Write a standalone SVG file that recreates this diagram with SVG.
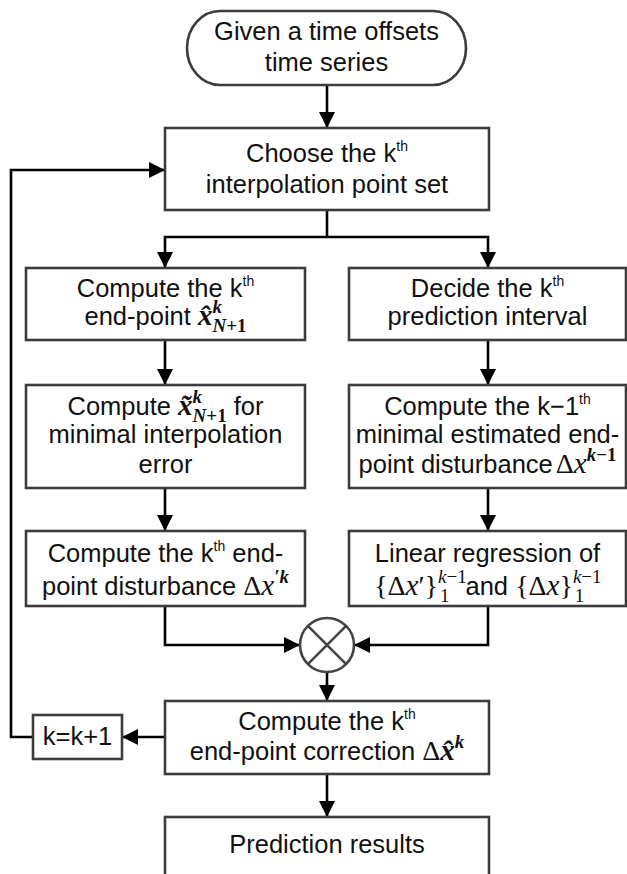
<svg xmlns="http://www.w3.org/2000/svg" width="627" height="874" viewBox="0 0 627 874">
<style>
.box{fill:#fff;stroke:#3c3c3c;stroke-width:2.6}
.wire{fill:none;stroke:#000;stroke-width:2.6}
.arr{marker-end:url(#ah)}
text{font-family:"Liberation Sans",Arial,sans-serif;font-size:25.5px;fill:#111}
.sup{font-size:14px}
.m{font-family:"Liberation Serif","Times New Roman",serif;font-style:italic;font-weight:bold;font-size:29px}
.mn{font-family:"Liberation Serif","Times New Roman",serif;font-style:italic;font-size:29px}
.mu{font-family:"Liberation Serif","Times New Roman",serif;font-size:28px}
.ms{font-family:"Liberation Serif","Times New Roman",serif;font-style:italic;font-weight:bold;font-size:19px}
.msu{font-family:"Liberation Serif","Times New Roman",serif;font-weight:bold;font-size:19px}
.msi{font-family:"Liberation Serif","Times New Roman",serif;font-style:italic;font-size:19px}
.msn{font-family:"Liberation Serif","Times New Roman",serif;font-size:19px}
</style>
<defs>
<marker id="ah" markerUnits="userSpaceOnUse" markerWidth="18" markerHeight="16" refX="16" refY="8" orient="auto">
<path d="M0,0 L16,8 L0,16 Z" fill="#000"/>
</marker>
</defs>

<g id="connectors">
<path class="wire arr" d="M327,85 V128"/>
<path class="wire" d="M327,210 V237"/>
<path class="wire arr" d="M327,237 H165 V268"/>
<path class="wire arr" d="M327,237 H488 V268"/>
<path class="wire arr" d="M165,340 V385"/>
<path class="wire arr" d="M488,340 V385"/>
<path class="wire arr" d="M165,488 V531"/>
<path class="wire arr" d="M488,488 V531"/>
<path class="wire arr" d="M165,606 V645 H300"/>
<path class="wire arr" d="M488,606 V645 H354"/>
<path class="wire arr" d="M327,672 V701"/>
<path class="wire arr" d="M165,737 H122"/>
<path class="wire arr" d="M33,737 H11 V170 H165"/>
<path class="wire arr" d="M327,774 V817"/>
</g>

<g id="start">
<rect class="box" x="187" y="11" width="279" height="74" rx="33" ry="37"/>
<text x="326.5" y="40" text-anchor="middle">Given a time offsets</text>
<text x="326.5" y="71" text-anchor="middle">time series</text>
</g>

<g id="choose">
<rect class="box" x="165" y="128" width="324" height="82"/>
<text x="327" y="162" text-anchor="middle">Choose the k<tspan class="sup" dy="-11">th</tspan></text>
<text x="327" y="193" text-anchor="middle">interpolation point set</text>
</g>

<g id="endpoint">
<rect class="box" x="26" y="268" width="279" height="72"/>
<text x="165.5" y="297" text-anchor="middle">Compute the k<tspan class="sup" dy="-11">th</tspan></text>
<text x="165.5" y="325" text-anchor="middle">end-point <tspan class="m">x̂</tspan><tspan class="ms" dy="-12">k</tspan><tspan class="ms" dx="-9.5" dy="19">N</tspan><tspan class="msu">+1</tspan></text>
</g>

<g id="decide">
<rect class="box" x="349" y="268" width="277" height="72"/>
<text x="487.5" y="297" text-anchor="middle">Decide the k<tspan class="sup" dy="-11">th</tspan></text>
<text x="487.5" y="325" text-anchor="middle">prediction interval</text>
</g>

<g id="minerr">
<rect class="box" x="26" y="385" width="279" height="103"/>
<text x="165.5" y="415" text-anchor="middle">Compute <tspan class="m">x̃</tspan><tspan class="ms" dy="-12">k</tspan><tspan class="ms" dx="-9.5" dy="19">N</tspan><tspan class="msu">+1</tspan><tspan dy="-7"> for</tspan></text>
<text x="165.5" y="443" text-anchor="middle">minimal interpolation</text>
<text x="165.5" y="473" text-anchor="middle">error</text>
</g>

<g id="estimated">
<rect class="box" x="349" y="385" width="277" height="103"/>
<text x="487.5" y="415" text-anchor="middle">Compute the k−1<tspan class="sup" dy="-11">th</tspan></text>
<text x="487.5" y="443" text-anchor="middle">minimal estimated end-</text>
<text x="487.5" y="473" text-anchor="middle">point disturbance<tspan class="mu" dx="3">Δ</tspan><tspan class="mn">x</tspan><tspan class="ms" dy="-12">k</tspan><tspan class="msu">−1</tspan></text>
</g>

<g id="disturbance">
<rect class="box" x="26" y="531" width="279" height="75"/>
<text x="165.5" y="562" text-anchor="middle">Compute the k<tspan class="sup" dy="-11">th</tspan><tspan dy="11"> end-</tspan></text>
<text x="165.5" y="595" text-anchor="middle">point disturbance <tspan class="mu">Δ</tspan><tspan class="mn">x</tspan><tspan class="ms" dy="-12">′k</tspan></text>
</g>

<g id="regression">
<rect class="box" x="349" y="531" width="277" height="75"/>
<text x="487.5" y="562" text-anchor="middle">Linear regression of</text>
<text x="487.5" y="595" text-anchor="middle"><tspan class="mu">{Δ</tspan><tspan class="mn">x</tspan><tspan class="mu">′}</tspan><tspan class="msi" dy="-12">k</tspan><tspan class="msn">−1</tspan><tspan class="msn" dx="-26" dy="19">1</tspan><tspan dx="16" dy="-7">and </tspan><tspan class="mu">{Δ</tspan><tspan class="mn">x</tspan><tspan class="mu">}</tspan><tspan class="msi" dy="-12">k</tspan><tspan class="msn">−1</tspan><tspan class="msn" dx="-26" dy="19">1</tspan><tspan class="msn" dx="16"> </tspan></text>
</g>

<g id="multiply">
<circle cx="327" cy="645" r="27" fill="#fff" stroke="#444" stroke-width="2.6"/>
<path d="M307.9,625.9 L346.1,664.1 M346.1,625.9 L307.9,664.1" stroke="#444" stroke-width="2.6" fill="none"/>
</g>

<g id="correction">
<rect class="box" x="165" y="701" width="324" height="73"/>
<text x="327" y="730" text-anchor="middle">Compute the k<tspan class="sup" dy="-11">th</tspan></text>
<text x="327" y="760" text-anchor="middle">end-point correction <tspan class="mu">Δ</tspan><tspan class="m">x̂</tspan><tspan class="ms" dy="-12">k</tspan></text>
</g>

<g id="increment">
<rect class="box" x="33" y="715" width="89" height="44"/>
<text x="77.5" y="745" text-anchor="middle">k=k+1</text>
</g>

<g id="result">
<rect class="box" x="165" y="817" width="324" height="70"/>
<text x="327" y="853" text-anchor="middle">Prediction results</text>
</g>
</svg>
